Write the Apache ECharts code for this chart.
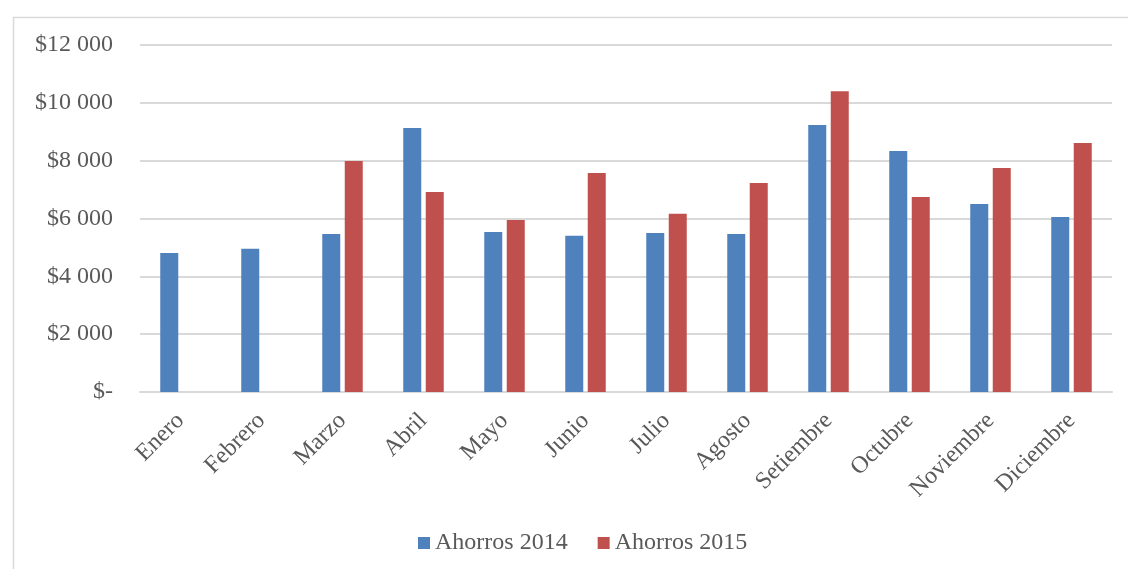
<!DOCTYPE html>
<html>
<head>
<meta charset="utf-8">
<script src="https://cdn.jsdelivr.net/npm/echarts@6/dist/echarts.min.js"></script>
<style>html,body{margin:0;padding:0;background:#fff;}#c{width:1128px;height:569px;}</style>
</head>
<body>
<div id="c"></div>
<script>
const categories = ['Enero','Febrero','Marzo','Abril','Mayo','Junio','Julio','Agosto','Setiembre','Octubre','Noviembre','Diciembre'];
const ahorros2014 = [4810, 4950, 5460, 9130, 5530, 5400, 5500, 5460, 9230, 8330, 6500, 6050];
const ahorros2015 = [null, null, 7990, 6920, 5950, 7570, 6160, 7230, 10400, 6740, 7750, 8610];
const yTicks = [0, 2000, 4000, 6000, 8000, 10000, 12000];

const font = 'Liberation Serif, Times New Roman, serif';
const chart = echarts.init(document.getElementById('c'));
chart.setOption({
  animation: false,
  graphic: [{
    type: 'rect', left: 11, top: 15,
    shape: { width: 1140, height: 580 },
    style: { fill: 'none', stroke: '#d9d9d9', lineWidth: 1.5 },
    silent: true
  }],
  grid: { left: 140, right: 16, top: 45, bottom: 177, containLabel: false },
  legend: {
    bottom: 9, left: 413,
    itemWidth: 12, itemHeight: 12, itemGap: 30,
    icon: 'rect',
    textStyle: { fontFamily: font, fontSize: 24, color: '#595959' },
    data: ['Ahorros 2014', 'Ahorros 2015']
  },
  xAxis: {
    type: 'category', data: categories,
    axisLine: { lineStyle: { color: '#d9d9d9', width: 2 } },
    axisTick: { show: false },
    axisLabel: { rotate: 45, margin: 25, fontFamily: font, fontSize: 24, color: '#595959', interval: 0 }
  },
  yAxis: {
    type: 'value', min: yTicks[0], max: yTicks[yTicks.length-1], interval: 2000,
    axisLine: { show: false }, axisTick: { show: false },
    splitLine: { lineStyle: { color: '#d9d9d9', width: 2 } },
    axisLabel: {
      margin: 27, fontFamily: font, fontSize: 24, color: '#595959',
      formatter: v => v === 0 ? '$-' : '$' + String(v).replace(/\B(?=(\d{3})+(?!\d))/g, ' ')
    }
  },
  series: [
    { name: 'Ahorros 2014', type: 'bar', data: ahorros2014, barWidth: 18, barGap: '25%', itemStyle: { color: '#4f81bd' } },
    { name: 'Ahorros 2015', type: 'bar', data: ahorros2015, barWidth: 18, barGap: '25%', itemStyle: { color: '#c0504d' } }
  ]
});
</script>
</body>
</html>
